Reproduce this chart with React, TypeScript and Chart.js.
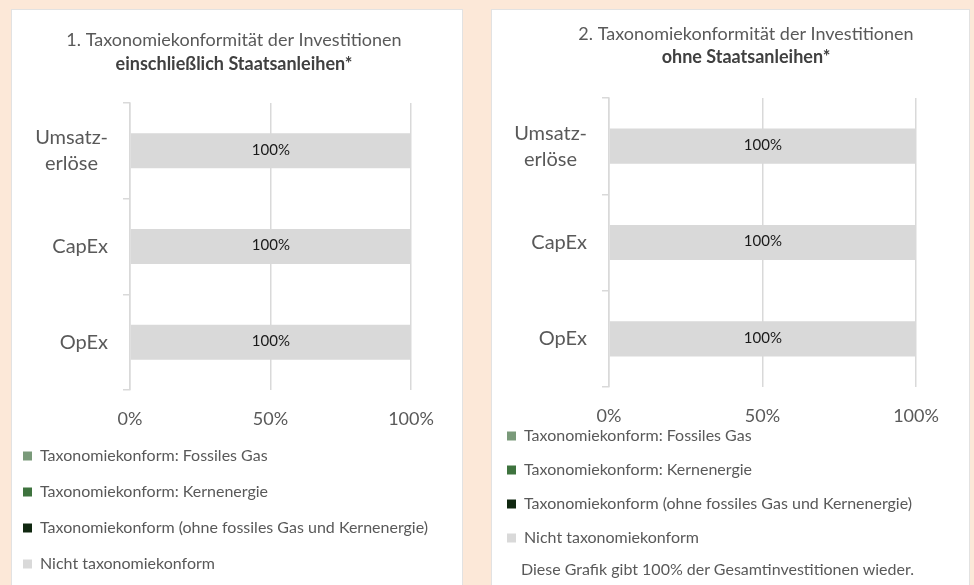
import React, { useEffect, useRef } from 'react';
import { Chart, registerables } from 'chart.js';

Chart.register(...registerables);

// ---------- data ----------
const categories: (string | string[])[] = [['Umsatz-', 'erlöse\u2002'], 'CapEx', 'OpEx'];
const seriesLabels = [
  'Taxonomiekonform: Fossiles Gas',
  'Taxonomiekonform: Kernenergie',
  'Taxonomiekonform (ohne fossiles Gas und Kernenergie)',
  'Nicht taxonomiekonform',
];
const seriesColors = ['#7A9A7A', '#3E733E', '#102810', '#D9D9D9'];

// chart 1: including sovereign bonds
const gas1 = [0, 0, 0];
const nuclear1 = [0, 0, 0];
const aligned1 = [0, 0, 0];
const notAligned1 = [100, 100, 100];

// chart 2: excluding sovereign bonds
const gas2 = [0, 0, 0];
const nuclear2 = [0, 0, 0];
const aligned2 = [0, 0, 0];
const notAligned2 = [100, 100, 100];

const xTickValues = [0, 50, 100];

const title1 = '1. Taxonomiekonformität der Investitionen';
const subtitle1 = 'einschließlich Staatsanleihen*';
const title2 = '2. Taxonomiekonformität der Investitionen';
const subtitle2 = 'ohne Staatsanleihen*';
const note2 = 'Diese Grafik gibt 100% der Gesamtinvestitionen wieder.';

const FONT = 'Lato, "Open Sans", sans-serif';
const TEXT = '#595959';
const GRID = '#D9D9D9';

const barValueLabels = {
  id: 'barValueLabels',
  afterDatasetsDraw(chart: any) {
    const { ctx } = chart;
    ctx.save();
    ctx.font = `15px ${FONT}`;
    ctx.fillStyle = '#1A1A1A';
    ctx.textAlign = 'center';
    ctx.textBaseline = 'middle';
    chart.data.datasets.forEach((ds: any, i: number) => {
      const meta = chart.getDatasetMeta(i);
      if (meta.hidden) return;
      meta.data.forEach((el: any, j: number) => {
        const v = ds.data[j];
        if (!v) return;
        const { x, y, base } = el.getProps(['x', 'y', 'base'], true);
        ctx.fillText(`${v}%`, (x + base) / 2, y - 1);
      });
    });
    ctx.restore();
  },
};

type PanelCfg = {
  series: number[][];
  title: string;
  subtitle: string;
  titlePadTop: number;
  subPadTop: number;
  subPadBottom: number;
  yWidth: number;
  rightWidth: number;
  xHeight: number;
  legendPad: number;
  padBottom: number;
};

function makeConfig(p: PanelCfg): any {
  return {
    type: 'bar',
    data: {
      labels: categories,
      datasets: seriesLabels.map((label, i) => ({
        label,
        data: p.series[i],
        backgroundColor: seriesColors[i],
        borderWidth: 0,
        barPercentage: 0.365,
        categoryPercentage: 1,
      })),
    },
    plugins: [barValueLabels],
    options: {
      indexAxis: 'y',
      responsive: false,
      animation: false,
      devicePixelRatio: 1,
      layout: { padding: { left: 0, right: 0, top: 0, bottom: p.padBottom } },
      plugins: {
        tooltip: { enabled: false },
        title: {
          display: true,
          text: p.title,
          color: TEXT,
          font: { family: FONT, size: 18, weight: 'normal' },
          padding: { top: p.titlePadTop, bottom: 0 },
        },
        subtitle: {
          display: true,
          text: p.subtitle,
          color: '#404040',
          font: { family: FONT, size: 18, weight: 'bold' },
          padding: { top: p.subPadTop, bottom: p.subPadBottom },
        },
        legend: {
          position: 'bottom',
          align: 'start',
          labels: {
            boxWidth: 9,
            boxHeight: 9,
            padding: p.legendPad,
            color: TEXT,
            font: { family: FONT, size: 16 },
          },
        },
      },
      scales: {
        x: {
          type: 'linear',
          stacked: true,
          min: 0,
          max: 100,
          afterBuildTicks: (s: any) => {
            s.ticks = xTickValues.map((v) => ({ value: v }));
          },
          ticks: {
            callback: (v: any) => `${v}%`,
            color: TEXT,
            font: { family: FONT, size: 18 },
            padding: 18,
          },
          grid: { color: GRID, lineWidth: 1.5, drawTicks: false },
          border: { display: false },
          afterFit: (s: any) => {
            s.height = p.xHeight;
            // let the tick labels overflow the (reduced) axis box
            s._computeLabelArea = () => undefined;
          },
        },
        y: {
          type: 'category',
          stacked: true,
          grid: {
            display: true,
            drawOnChartArea: false,
            drawTicks: true,
            tickLength: 7,
            color: GRID,
            lineWidth: 1.5,
            offset: true,
          },
          border: { display: true, color: GRID, width: 1.5 },
          ticks: {
            color: TEXT,
            font: { family: FONT, size: 20, lineHeight: 1.3 },
            padding: 15,
          },
          afterFit: (s: any) => {
            s.width = p.yWidth;
          },
        },
        yR: {
          type: 'category',
          position: 'right',
          display: true,
          grid: { display: false, drawTicks: false },
          border: { display: false },
          ticks: { display: false },
          afterFit: (s: any) => {
            s.width = p.rightWidth;
          },
        },
      },
    },
  };
}

function ChartCanvas(props: { cfg: PanelCfg; left: number; top: number; width: number; height: number }) {
  const ref = useRef<HTMLCanvasElement>(null);
  useEffect(() => {
    if (!ref.current) return;
    const chart = new Chart(ref.current, makeConfig(props.cfg));
    return () => chart.destroy();
  }, []);
  return (
    <canvas
      ref={ref}
      width={props.width}
      height={props.height}
      style={{
        position: 'absolute',
        left: props.left,
        top: props.top,
        width: props.width,
        height: props.height,
      }}
    />
  );
}

export default function App() {
  const cfg1: PanelCfg = {
    series: [gas1, nuclear1, aligned1, notAligned1],
    title: title1,
    subtitle: subtitle1,
    titlePadTop: 20.2,
    subPadTop: 2.4,
    subPadBottom: 28.2,
    yWidth: 127,
    rightWidth: 54,
    xHeight: 38,
    legendPad: 20,
    padBottom: 3,
  };
  const cfg2: PanelCfg = {
    series: [gas2, nuclear2, aligned2, notAligned2],
    title: title2,
    subtitle: subtitle2,
    titlePadTop: 14.2,
    subPadTop: 1.4,
    subPadBottom: 30.2,
    yWidth: 120,
    rightWidth: 87,
    xHeight: 23,
    legendPad: 18,
    padBottom: 29,
  };
  return (
    <div
      style={{
        position: 'fixed',
        left: 0,
        top: 0,
        width: 974,
        height: 585,
        overflow: 'hidden',
        background: '#FCE8D8',
        fontFamily: FONT,
      }}
    >
      <div
        style={{
          position: 'absolute',
          left: 11,
          top: 9,
          width: 452,
          height: 600,
          background: '#FFFFFF',
          border: '1px solid #E2E2E2',
          boxSizing: 'border-box',
        }}
      />
      <div
        style={{
          position: 'absolute',
          left: 491,
          top: 9,
          width: 479,
          height: 600,
          background: '#FFFFFF',
          border: '1px solid #E2E2E2',
          boxSizing: 'border-box',
        }}
      />
      <ChartCanvas cfg={cfg1} left={3} top={9} width={462} height={576} />
      <ChartCanvas cfg={cfg2} left={489} top={9} width={514} height={576} />
      <div
        style={{
          position: 'absolute',
          left: 521,
          top: 559,
          fontSize: 16,
          lineHeight: '19px',
          color: TEXT,
          whiteSpace: 'nowrap',
        }}
      >
        {note2}
      </div>
    </div>
  );
}
